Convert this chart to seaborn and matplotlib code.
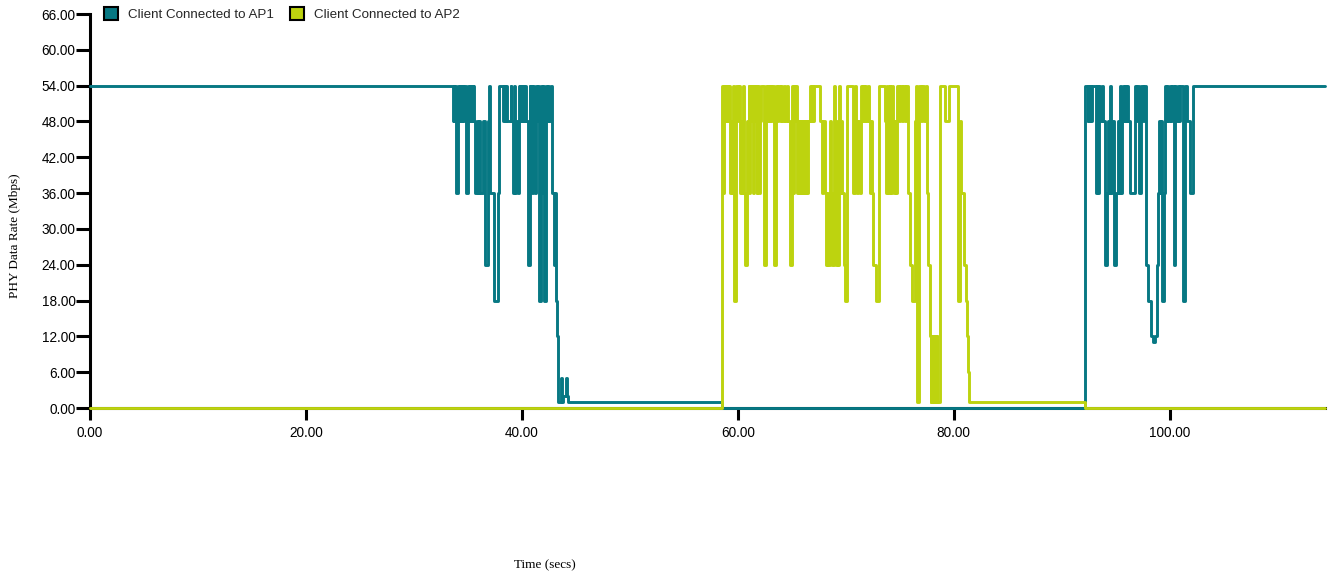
import matplotlib
matplotlib.use("Agg")
import matplotlib.pyplot as plt
from matplotlib.patches import Patch
from matplotlib.ticker import FormatStrFormatter
import numpy as np
import pandas as pd
import seaborn as sns

# PHY data rate samples (time in s, rate in Mbps), held until the next sample
ap1_time = [
    0.00, 33.60, 33.68, 33.74, 33.80, 33.94, 34.10, 34.18, 34.24, 34.30, 34.36, 34.42,
    34.48, 34.56, 34.62, 34.84, 34.98, 35.04, 35.10, 35.16, 35.22, 35.28, 35.34, 35.40,
    35.46, 35.52, 35.60, 35.68, 35.82, 35.90, 36.02, 36.12, 36.36, 36.58, 36.84, 36.98,
    37.08, 37.42, 37.78, 37.88, 38.30, 38.38, 38.46, 38.52, 38.60, 38.96, 39.04, 39.14,
    39.26, 39.34, 39.46, 39.60, 39.72, 39.80, 39.86, 39.92, 39.98, 40.06, 40.12, 40.20,
    40.30, 40.40, 40.56, 40.72, 40.80, 40.86, 40.98, 41.06, 41.14, 41.26, 41.34, 41.40,
    41.48, 41.62, 41.78, 41.86, 41.96, 42.10, 42.26, 42.34, 42.42, 42.50, 42.66, 42.76,
    42.98, 43.06, 43.14, 43.24, 43.32, 43.64, 43.74, 43.82, 44.06, 44.16, 44.30, 58.52,
    92.13, 92.40, 92.48, 92.56, 92.64, 92.72, 92.80, 93.20, 93.30, 93.38, 93.50, 93.60,
    93.72, 93.80, 93.98, 94.16, 94.26, 94.36, 94.48, 94.56, 94.68, 94.90, 95.08, 95.20,
    95.28, 95.38, 95.46, 95.56, 95.66, 95.76, 95.86, 95.96, 96.06, 96.18, 96.30, 96.78,
    96.90, 97.00, 97.20, 97.40, 97.56, 97.66, 97.84, 98.02, 98.30, 98.46, 98.62, 98.80,
    98.90, 99.00, 99.10, 99.20, 99.30, 99.46, 99.56, 99.66, 99.76, 99.88, 100.00, 100.12,
    100.24, 100.40, 100.54, 100.64, 100.76, 100.88, 101.00, 101.22, 101.44, 101.60, 101.94,
    102.20, 114.40,
]
ap1_rate = [
    54, 48, 54, 48, 54, 36, 54, 48, 54, 48, 54, 48,
    54, 48, 54, 36, 48, 54, 48, 54, 48, 54, 48, 54,
    48, 54, 48, 36, 48, 36, 48, 36, 48, 24, 48, 54,
    36, 18, 36, 54, 48, 54, 48, 54, 48, 54, 48, 36,
    54, 36, 48, 36, 54, 48, 54, 48, 54, 48, 54, 48,
    54, 48, 24, 54, 48, 54, 36, 54, 48, 36, 54, 48,
    54, 18, 54, 36, 54, 18, 54, 48, 54, 48, 54, 36,
    24, 36, 18, 12, 1, 5, 1, 2, 5, 2, 1, 0,
    54, 48, 54, 48, 54, 48, 54, 36, 54, 36, 54, 48,
    54, 48, 24, 36, 48, 36, 54, 36, 48, 24, 36, 48,
    36, 54, 36, 48, 54, 48, 54, 48, 54, 48, 36, 54,
    48, 54, 36, 54, 48, 54, 24, 18, 12, 11, 12, 24,
    36, 48, 36, 48, 18, 36, 54, 48, 54, 48, 54, 48,
    54, 24, 54, 48, 54, 48, 54, 18, 54, 48, 36,
    54, 54,
]

ap2_time = [
    0.00, 58.52, 58.66, 58.74, 58.82, 58.90, 58.98, 59.06, 59.14, 59.22, 59.30, 59.40,
    59.48, 59.58, 59.70, 59.86, 60.00, 60.10, 60.22, 60.30, 60.38, 60.48, 60.56, 60.68,
    60.90, 61.00, 61.08, 61.16, 61.24, 61.32, 61.40, 61.50, 61.58, 61.66, 61.74, 61.82,
    61.90, 62.00, 62.10, 62.20, 62.40, 62.62, 62.72, 62.80, 62.90, 63.00, 63.10, 63.20,
    63.34, 63.54, 63.66, 63.76, 63.90, 64.02, 64.14, 64.26, 64.40, 64.52, 64.62, 64.80,
    65.02, 65.12, 65.22, 65.32, 65.42, 65.52, 65.62, 65.70, 65.80, 65.88, 65.96, 66.04,
    66.14, 66.22, 66.32, 66.40, 66.52, 66.66, 66.78, 66.88, 66.96, 67.06, 67.60, 67.80,
    67.90, 68.04, 68.20, 68.30, 68.40, 68.56, 68.66, 68.76, 68.90, 68.98, 69.06, 69.16,
    69.26, 69.36, 69.46, 69.56, 69.66, 69.80, 69.90, 70.10, 70.70, 70.88, 70.98, 71.08,
    71.18, 71.28, 71.40, 71.50, 71.60, 71.70, 71.80, 71.92, 72.04, 72.12, 72.22, 72.34,
    72.44, 72.56, 72.80, 73.10, 73.60, 73.70, 73.80, 73.88, 73.96, 74.06, 74.14, 74.22,
    74.32, 74.40, 74.50, 74.60, 74.70, 74.80, 74.90, 75.00, 75.20, 75.30, 75.50, 75.60,
    75.80, 75.96, 76.16, 76.40, 76.50, 76.62, 76.78, 77.00, 77.10, 77.30, 77.40, 77.56,
    77.66, 77.78, 77.86, 77.94, 78.02, 78.10, 78.18, 78.26, 78.34, 78.42, 78.50, 78.70,
    79.20, 79.60, 80.40, 80.60, 80.70, 81.00, 81.12, 81.24, 81.36, 81.46, 92.13, 114.40,
]
ap2_rate = [
    0, 54, 36, 54, 48, 54, 48, 54, 48, 54, 36, 48,
    36, 54, 18, 54, 48, 54, 36, 48, 36, 54, 36, 24,
    48, 54, 36, 54, 48, 54, 36, 54, 48, 54, 36, 48,
    54, 36, 48, 54, 24, 54, 48, 54, 48, 54, 48, 54,
    24, 54, 48, 54, 48, 54, 48, 54, 48, 54, 48, 24,
    54, 36, 54, 48, 54, 36, 48, 36, 48, 36, 48, 36,
    48, 36, 48, 36, 48, 54, 48, 54, 48, 54, 48, 36,
    48, 36, 24, 36, 24, 48, 36, 24, 54, 36, 24, 48,
    24, 54, 36, 48, 36, 24, 18, 54, 36, 54, 48, 36,
    48, 36, 54, 48, 54, 48, 54, 48, 54, 48, 36, 48,
    36, 24, 18, 54, 48, 36, 54, 48, 36, 54, 48, 36,
    54, 48, 36, 48, 36, 54, 48, 54, 48, 54, 48, 54,
    36, 24, 18, 48, 54, 1, 54, 48, 54, 48, 54, 36,
    24, 12, 1, 12, 1, 12, 1, 12, 1, 12, 1, 54,
    48, 54, 18, 48, 36, 24, 18, 12, 6, 1, 0, 0,
]

series_names = ["Client Connected to AP1", "Client Connected to AP2"]
series_colors = ["#077883", "#bdd30f"]

y_ticks = np.arange(0, 67, 6)
x_ticks = np.arange(0, 101, 20)

df = pd.concat([
    pd.DataFrame({"time": ap1_time, "rate": ap1_rate, "series": series_names[0]}),
    pd.DataFrame({"time": ap2_time, "rate": ap2_rate, "series": series_names[1]}),
], ignore_index=True)

sns.set_theme(style="white")
plt.rcParams["font.family"] = ["Liberation Sans", "DejaVu Sans"]

fig = plt.figure(figsize=(13.31, 5.75), dpi=100)
ax = fig.add_axes([90 / 1331, 1 - 408 / 575, (1325 - 90) / 1331, (408 - 14) / 575])

sns.lineplot(
    data=df, x="time", y="rate", hue="series", hue_order=series_names,
    palette=series_colors, estimator=None, sort=False, drawstyle="steps-post",
    linewidth=2.1, legend=False, ax=ax, zorder=3, clip_on=False,
)

ax.set_xlim(0, 114.4)
ax.set_ylim(0, 66)
ax.set_yticks(y_ticks)
ax.set_xticks(x_ticks)
ax.yaxis.set_major_formatter(FormatStrFormatter("%.2f"))
ax.xaxis.set_major_formatter(FormatStrFormatter("%.2f"))
ax.set_xlabel("")
ax.set_ylabel("")

for side in ("top", "right"):
    ax.spines[side].set_visible(False)
for side in ("left", "bottom"):
    ax.spines[side].set_color("black")
    ax.spines[side].set_linewidth(2.2)

ax.tick_params(axis="y", direction="out", length=10, width=2.2, pad=0.5,
               labelsize=9.8, colors="black", left=True)
ax.tick_params(axis="x", direction="out", length=8.5, width=2.2, pad=4.5,
               labelsize=9.8, colors="black", bottom=True)

serif = ["Liberation Serif", "DejaVu Serif"]
fig.text(545 / 1331, 1 - 565 / 575, "Time (secs)", ha="center", va="center",
         fontsize=9.5, family=serif, color="black")
fig.text(15 / 1331, 1 - 236 / 575, "PHY Data Rate (Mbps)", ha="center", va="center",
         rotation=90, fontsize=9.5, family=serif, color="black")

handles = [Patch(facecolor=c, edgecolor="black", linewidth=1.5, label=n)
           for n, c in zip(series_names, series_colors)]
fig.legend(handles=handles, loc="center left", bbox_to_anchor=(104 / 1331, 1 - 14 / 575),
           ncol=2, frameon=False, fontsize=9.6, handlelength=1.05, handleheight=1.05,
           handletextpad=0.75, columnspacing=1.2, borderaxespad=0, borderpad=0)

fig.savefig("out.png", dpi=100, facecolor="white")
